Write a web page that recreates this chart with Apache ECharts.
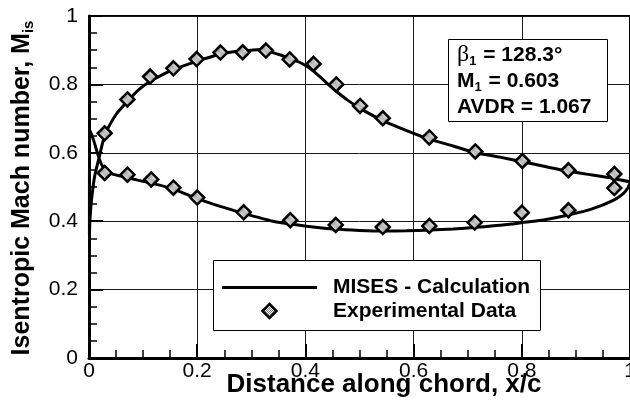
<!DOCTYPE html>
<html>
<head>
<meta charset="utf-8">
<script src="https://cdn.jsdelivr.net/npm/echarts@6/dist/echarts.min.js"></script>
<style>
  html, body { margin: 0; padding: 0; background: #fff; }
  #chart { width: 630px; height: 407px; }
</style>
</head>
<body>
<div id="chart"></div>
<script>
// MISES calculation, one closed contour: suction side from the trailing edge
// to the leading edge, then the pressure side back to the trailing edge.
const misesX = [
  1.0, 0.97, 0.93, 0.886, 0.843, 0.80, 0.757, 0.713, 0.673, 0.629, 0.587, 0.543,
  0.501, 0.478, 0.457, 0.44, 0.425, 0.41, 0.39, 0.37, 0.35, 0.317, 0.30, 0.27, 0.2425,
  0.2, 0.156, 0.135, 0.113, 0.09, 0.072, 0.05, 0.032, 0.026, 0.0185, 0.0103, 0.0045, 0.002, 0.0008,
  0.001, 0.0085, 0.0148, 0.021, 0.026, 0.034, 0.045, 0.069, 0.09, 0.118, 0.156, 0.2,
  0.241, 0.286, 0.34, 0.372, 0.41, 0.4536, 0.5, 0.544, 0.587, 0.630, 0.673, 0.716,
  0.76, 0.801, 0.845, 0.886, 0.93, 0.969, 0.987, 0.996, 1.0
];
const misesY = [
  0.515, 0.525, 0.535, 0.546, 0.560, 0.574, 0.588, 0.601, 0.620, 0.640, 0.665, 0.694,
  0.730, 0.754, 0.780, 0.803, 0.825, 0.845, 0.864, 0.876, 0.888, 0.902, 0.900, 0.896, 0.888,
  0.868, 0.843, 0.828, 0.809, 0.782, 0.752, 0.712, 0.662, 0.634, 0.585, 0.530, 0.460, 0.410, 0.360,
  0.668, 0.637, 0.603, 0.574, 0.558, 0.545, 0.537, 0.528, 0.520, 0.510, 0.494, 0.466,
  0.444, 0.423, 0.400, 0.392, 0.384, 0.377, 0.373, 0.371, 0.372, 0.374, 0.377, 0.382,
  0.388, 0.396, 0.405, 0.418, 0.436, 0.461, 0.480, 0.497, 0.513
];

// Experimental data, suction side
const expSuctionX = [0.029, 0.071, 0.113, 0.156, 0.199, 0.243, 0.284, 0.327, 0.371,
  0.415, 0.457, 0.501, 0.543, 0.629, 0.714, 0.801, 0.886, 0.971];
const expSuctionY = [0.657, 0.756, 0.823, 0.847, 0.874, 0.893, 0.894, 0.899, 0.873,
  0.860, 0.800, 0.737, 0.701, 0.645, 0.604, 0.576, 0.549, 0.538];

// Experimental data, pressure side
const expPressureX = [0.029, 0.071, 0.115, 0.156, 0.200, 0.286, 0.372, 0.456, 0.543,
  0.629, 0.713, 0.800, 0.886, 0.971];
const expPressureY = [0.541, 0.536, 0.522, 0.498, 0.469, 0.426, 0.403, 0.389, 0.383,
  0.386, 0.396, 0.425, 0.432, 0.497];

const xTickLabels = ['0', '0.2', '0.4', '0.6', '0.8', '1'];
const yTickLabels = ['0', '0.2', '0.4', '0.6', '0.8', '1'];

const FONT = '"Liberation Sans", Arial, Helvetica, sans-serif';

// fine checker used to fill the diamond markers
const tile = document.createElement('canvas');
tile.width = 2; tile.height = 2;
const tctx = tile.getContext('2d');
tctx.fillStyle = '#ffffff'; tctx.fillRect(0, 0, 2, 2);
tctx.fillStyle = '#808080'; tctx.fillRect(0, 0, 1, 1); tctx.fillRect(1, 1, 1, 1);
const diamondFill = { image: tile, repeat: 'repeat' };

const zip = (xs, ys) => xs.map((x, i) => [x, ys[i]]);
const misesData = zip(misesX, misesY);
const expData = zip(expSuctionX, expSuctionY).concat(zip(expPressureX, expPressureY));

const axisCommon = {
  type: 'value',
  min: 0,
  max: 1,
  interval: 0.2,
  axisLine: { show: true, onZero: false, lineStyle: { color: '#000', width: 3 } },
  axisTick: { show: true, inside: true, length: 14, lineStyle: { color: '#000', width: 2 } },
  minorTick: { show: true, splitNumber: 4, length: 8, lineStyle: { color: '#000', width: 1.5 } },
  splitLine: { show: true, lineStyle: { color: '#1a1a1a', width: 1 } },
  minorSplitLine: { show: false }
};

const chart = echarts.init(document.getElementById('chart'), null, { renderer: 'canvas' });

const gridLeft = 89, gridTop = 16, gridWidth = 541, gridHeight = 342;
const xLabelY = gridTop + gridHeight + 13;

// legend key geometry
const keyX0 = 222, keyX1 = 317, keyRow1 = 287.5, keyRow2 = 311, keyText = 333, dHalf = 7;

chart.setOption({
  animation: false,
  backgroundColor: '#fff',
  grid: {
    left: gridLeft, top: gridTop, width: gridWidth, height: gridHeight,
    show: true, borderColor: '#000', borderWidth: 2, backgroundColor: 'transparent'
  },
  xAxis: Object.assign({}, axisCommon, {
    axisLabel: {
      color: '#000', fontFamily: FONT, fontSize: 21, margin: 3,
      showMaxLabel: false,
      formatter: v => xTickLabels[Math.round(v / 0.2)]
    }
  }),
  yAxis: Object.assign({}, axisCommon, {
    axisLabel: {
      color: '#000', fontFamily: FONT, fontSize: 21, margin: 11,
      formatter: v => yTickLabels[Math.round(v / 0.2)]
    }
  }),
  graphic: [
    // last x tick label, sitting on the right edge of the frame
    {
      type: 'text', x: gridLeft + gridWidth, y: xLabelY,
      style: {
        text: xTickLabels[xTickLabels.length - 1], align: 'center', verticalAlign: 'middle',
        fontFamily: FONT, fontSize: 21, fill: '#000'
      }
    },
    // legend
    {
      type: 'rect', z: 5, silent: true,
      shape: { x: 213.5, y: 260.5, width: 327, height: 70 },
      style: { fill: '#fff', stroke: '#000', lineWidth: 1 }
    },
    {
      type: 'line', z: 6, silent: true,
      shape: { x1: keyX0, y1: keyRow1, x2: keyX1, y2: keyRow1 },
      style: { stroke: '#000', lineWidth: 3 }
    },
    {
      type: 'polygon', z: 6, silent: true,
      shape: { points: [
        [(keyX0 + keyX1) / 2, keyRow2 - dHalf], [(keyX0 + keyX1) / 2 + dHalf, keyRow2],
        [(keyX0 + keyX1) / 2, keyRow2 + dHalf], [(keyX0 + keyX1) / 2 - dHalf, keyRow2]
      ] },
      style: { fill: diamondFill, stroke: '#000', lineWidth: 2.5 }
    },
    {
      type: 'text', z: 6, x: keyText, y: keyRow1,
      style: {
        text: 'MISES - Calculation', align: 'left', verticalAlign: 'middle',
        fontFamily: FONT, fontSize: 21, fontWeight: 'bold', fill: '#000'
      }
    },
    {
      type: 'text', z: 6, x: keyText, y: keyRow2,
      style: {
        text: 'Experimental Data', align: 'left', verticalAlign: 'middle',
        fontFamily: FONT, fontSize: 21, fontWeight: 'bold', fill: '#000'
      }
    },
    // inlet conditions box
    {
      type: 'rect', z: 5, silent: true,
      shape: { x: 448.5, y: 39.5, width: 159, height: 82 },
      style: { fill: '#fff', stroke: '#000', lineWidth: 1 }
    },
    {
      type: 'text', z: 6, x: 457, y: 55,
      style: {
        text: '{g|β}{s|1}{t| = 128.3°}',
        verticalAlign: 'middle', align: 'left',
        rich: {
          g: { fontFamily: '"Liberation Serif", "DejaVu Serif", serif', fontSize: 24, fill: '#000' },
          s: { fontFamily: FONT, fontSize: 13, fontWeight: 'bold', fill: '#000', padding: [12, 1, 0, 0] },
          t: { fontFamily: FONT, fontSize: 21, fontWeight: 'bold', fill: '#000' }
        }
      }
    },
    {
      type: 'text', z: 6, x: 457, y: 81,
      style: {
        text: '{t|M}{s|1}{t| = 0.603}',
        verticalAlign: 'middle', align: 'left',
        rich: {
          s: { fontFamily: FONT, fontSize: 13, fontWeight: 'bold', fill: '#000', padding: [12, 1, 0, 0] },
          t: { fontFamily: FONT, fontSize: 21, fontWeight: 'bold', fill: '#000' }
        }
      }
    },
    {
      type: 'text', z: 6, x: 457, y: 107,
      style: {
        text: 'AVDR = 1.067',
        verticalAlign: 'middle', align: 'left',
        fontFamily: FONT, fontSize: 21, fontWeight: 'bold', fill: '#000'
      }
    },
    // axis titles
    {
      type: 'text', x: 384, y: 385,
      style: {
        text: 'Distance along chord, x/c',
        align: 'center', verticalAlign: 'middle',
        fontFamily: FONT, fontSize: 26, fontWeight: 'bold', fill: '#000'
      }
    },
    {
      type: 'text', x: 22, y: 188, rotation: Math.PI / 2,
      style: {
        text: '{t|Isentropic Mach number, M}{s|is}',
        align: 'center', verticalAlign: 'middle',
        rich: {
          t: { fontFamily: FONT, fontSize: 25, fontWeight: 'bold', fill: '#000' },
          s: { fontFamily: FONT, fontSize: 15, fontWeight: 'bold', fill: '#000', padding: [14, 0, 0, 0] }
        }
      }
    }
  ],
  series: [
    {
      name: 'MISES - Calculation',
      type: 'line',
      data: misesData,
      showSymbol: false,
      symbol: 'none',
      smooth: 0.2,
      clip: false,
      z: 3,
      lineStyle: { color: '#000', width: 3 },
      itemStyle: { color: '#000' }
    },
    {
      name: 'Experimental Data',
      type: 'scatter',
      data: expData,
      symbol: 'diamond',
      symbolSize: 14,
      z: 4,
      itemStyle: {
        color: diamondFill,
        borderColor: '#000',
        borderWidth: 2.5,
        opacity: 1
      }
    }
  ]
});
</script>
</body>
</html>
